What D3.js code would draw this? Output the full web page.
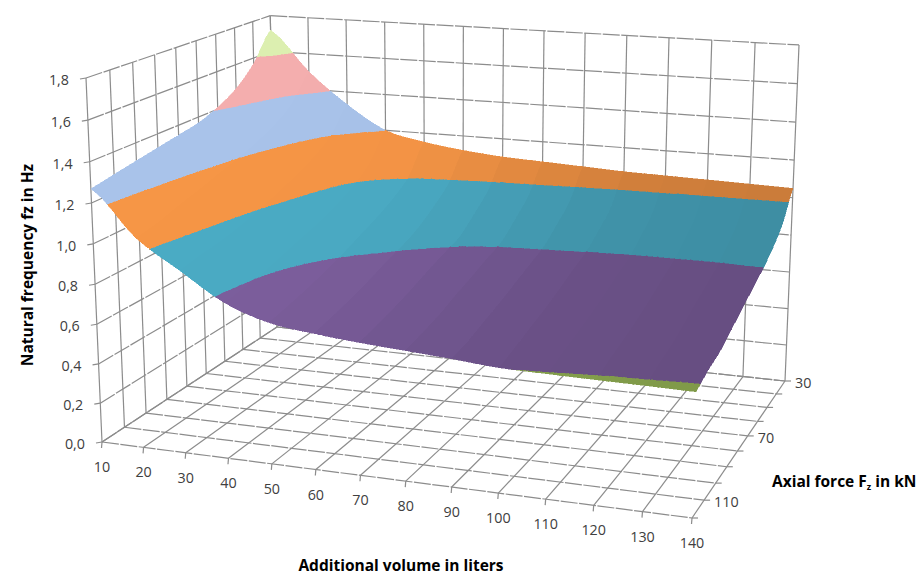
<!DOCTYPE html>
<html>
<head>
<meta charset="utf-8">
<script src="https://d3js.org/d3.v7.min.js"></script>
<style>
  body { margin: 0; background: #fff; }
  text { font-family: "Open Sans", sans-serif; }
  .tick { font-size: 14.3px; fill: #404040; }
  .title { font-size: 15.5px; font-weight: 700; fill: #000; }
</style>
</head>
<body>
<div id="chart"></div>
<script>
const volumes = [10, 20, 30, 40, 50, 60, 70, 80, 90, 100, 110, 120, 130, 140];
const forces = [30, 40, 50, 60, 70, 80, 90, 100, 110, 120];
const forceLabels = [30, 70, 110];
const freqTicks = [0, 0.2, 0.4, 0.6, 0.8, 1.0, 1.2, 1.4, 1.6, 1.8];

const f30 = [1.72, 1.50, 1.33, 1.20, 1.15, 1.12, 1.10, 1.09, 1.08, 1.07, 1.065, 1.06, 1.055, 1.05];
const f40 = [1.57, 1.365, 1.20, 1.07, 1.01, 0.985, 0.97, 0.96, 0.945, 0.935, 0.93, 0.925, 0.925, 0.925];
const f50 = [1.47, 1.29, 1.13, 0.99, 0.94, 0.91, 0.89, 0.88, 0.87, 0.86, 0.855, 0.85, 0.85, 0.85];
const f60 = [1.41, 1.24, 1.08, 0.94, 0.89, 0.85, 0.82, 0.81, 0.805, 0.80, 0.795, 0.795, 0.795, 0.80];
const f70 = [1.37, 1.20, 1.04, 0.90, 0.85, 0.81, 0.79, 0.78, 0.77, 0.765, 0.76, 0.755, 0.755, 0.76];
const f80 = [1.35, 1.17, 1.00, 0.87, 0.81, 0.78, 0.76, 0.745, 0.735, 0.725, 0.72, 0.715, 0.72, 0.72];
const f90 = [1.33, 1.135, 0.97, 0.84, 0.775, 0.745, 0.725, 0.715, 0.70, 0.69, 0.685, 0.68, 0.68, 0.68];
const f100 = [1.31, 1.105, 0.945, 0.81, 0.745, 0.715, 0.695, 0.68, 0.67, 0.66, 0.655, 0.65, 0.645, 0.64];
const f110 = [1.29, 1.07, 0.93, 0.79, 0.72, 0.69, 0.67, 0.655, 0.64, 0.63, 0.628, 0.625, 0.622, 0.62];
const f120 = [1.27, 1.05, 0.91, 0.775, 0.70, 0.67, 0.65, 0.635, 0.62, 0.602, 0.598, 0.595, 0.593, 0.59];
const surface = [f30, f40, f50, f60, f70, f80, f90, f100, f110, f120];

const bandColors = ['#4F81BD', '#C0504D', '#9BBB59', '#7D5F9E', '#4BACC6', '#F79646', '#A9C4EB', '#F5AEAE', '#DDF0B0'];

const width = 921;
const height = 575;

// box corners on the page, floor then top of the walls
const floorBackLeft = [277, 327];
const floorBackRight = [785, 381];
const floorFrontRight = [692, 518];
const floorFrontLeft = [102, 442];
const topFrontLeft = [86, 78];
const topBackRight = [799, 44];

const volumeScale = d3.scaleLinear().domain([10, 140]).range([0, 1]);
const forceScale = d3.scaleLinear().domain([30, 120]).range([0, 1]);
const freqScale = d3.scaleLinear().domain([0, 1.8]).range([0, 1]);
const shade = d3.scaleLinear().domain([0, 0.3, 0.7, 1]).range([1, 0.98, 0.85, 0.82]);

// unit square -> quad homography, plus a column for the height
const makeProjection = () => {
  const [x0, y0] = floorBackLeft;
  const [x1, y1] = floorBackRight;
  const [x2, y2] = floorFrontRight;
  const [x3, y3] = floorFrontLeft;
  const sx = x0 - x1 + x2 - x3;
  const sy = y0 - y1 + y2 - y3;
  const dx1 = x1 - x2;
  const dx2 = x3 - x2;
  const dy1 = y1 - y2;
  const dy2 = y3 - y2;
  const det = dx1 * dy2 - dx2 * dy1;
  const g = (sx * dy2 - dx2 * sy) / det;
  const h = (dx1 * sy - sx * dy1) / det;
  const a = x1 - x0 + g * x1;
  const b = x3 - x0 + h * x3;
  const d = y1 - y0 + g * y1;
  const e = y3 - y0 + h * y3;
  const nx = (u, v) => a * u + b * v + x0;
  const ny = (u, v) => d * u + e * v + y0;
  const w = (u, v) => g * u + h * v + 1;
  const [xa, ya] = topFrontLeft;
  const [xb] = topBackRight;
  const r = (nx(0, 1) - nx(1, 0) - xa * w(0, 1) + xb * w(1, 0)) / (xa - xb);
  const p = xa * (w(0, 1) + r) - nx(0, 1);
  const q = ya * (w(0, 1) + r) - ny(0, 1);
  return (u, v, z) => {
    const den = w(u, v) + r * z;
    return [(nx(u, v) + p * z) / den, (ny(u, v) + q * z) / den];
  };
};
const project = makeProjection();
const at = (volume, force, freq) => project(volumeScale(volume), forceScale(force), freqScale(freq));

const svg = d3.select('#chart').append('svg')
  .attr('width', width)
  .attr('height', height);

const gridLine = (from, to, dashed) => {
  svg.append('line')
    .attr('x1', from[0]).attr('y1', from[1])
    .attr('x2', to[0]).attr('y2', to[1])
    .attr('stroke', '#8c8c8c')
    .attr('stroke-width', 1.2)
    .attr('stroke-dasharray', dashed ? '17 1.5' : null);
};

const vMin = volumes[0];
const vMax = volumes[volumes.length - 1];
const fMin = forces[0];
const fMax = forces[forces.length - 1];
const zMax = freqTicks[freqTicks.length - 1];

// walls and floor
freqTicks.forEach((z) => {
  gridLine(at(vMin, fMax, z), at(vMin, fMin, z), true);
  gridLine(at(vMin, fMin, z), at(vMax, fMin, z), true);
  const edge = at(vMin, fMax, z);
  gridLine([edge[0] - 6, edge[1] + 1], edge, false);
});
volumes.forEach((volume) => {
  gridLine(at(volume, fMin, 0), at(volume, fMin, zMax), false);
  gridLine(at(volume, fMin, 0), at(volume, fMax, 0), false);
  const edge = at(volume, fMax, 0);
  gridLine(edge, [edge[0] - 0.5, edge[1] + 6], false);
});
forces.forEach((force) => {
  gridLine(at(vMin, force, 0), at(vMin, force, zMax), false);
  gridLine(at(vMin, force, 0), at(vMax, force, 0), true);
  const edge = at(vMax, force, 0);
  gridLine(edge, [edge[0] + 6, edge[1]], false);
});

// smooth the sheet between the read values, the way the original renders it
const spline = (list, pos) => {
  const i = Math.min(Math.floor(pos), list.length - 2);
  const t = pos - i;
  const p0 = list[Math.max(i - 1, 0)];
  const p1 = list[i];
  const p2 = list[i + 1];
  const p3 = list[Math.min(i + 2, list.length - 1)];
  return p1 + 0.5 * t * (p2 - p0 + t * (2 * p0 - 5 * p1 + 4 * p2 - p3 + t * (3 * p1 - p0 - 3 * p2 + p3)));
};
const heightAt = (rowPos, colPos) => spline(surface.map(row => spline(row, colPos)), rowPos);
const steps = 4;
const uOf = d3.scaleLinear().domain([0, volumes.length - 1]).range([0, 1]);
const vOf = d3.scaleLinear().domain([0, forces.length - 1]).range([0, 1]);
const node = (rowPos, colPos) => [uOf(colPos), vOf(rowPos), heightAt(rowPos, colPos)];

// cut a triangle to one frequency band, working in (u, v, z)
const clipBelow = (poly, limit, sign) => {
  const out = [];
  poly.forEach((cur, i) => {
    const next = poly[(i + 1) % poly.length];
    const dc = sign * (limit - cur[2]);
    const dn = sign * (limit - next[2]);
    if (dc >= 0) out.push(cur);
    if ((dc > 0 && dn < 0) || (dc < 0 && dn > 0)) {
      const t = dc / (dc - dn);
      out.push([cur[0] + t * (next[0] - cur[0]), cur[1] + t * (next[1] - cur[1]), limit]);
    }
  });
  return out;
};

const facets = [];
d3.range((forces.length - 1) * steps).forEach((i) => {
  d3.range((volumes.length - 1) * steps).forEach((j) => {
    const a = node(i / steps, j / steps);
    const b = node(i / steps, (j + 1) / steps);
    const c = node((i + 1) / steps, (j + 1) / steps);
    const d = node((i + 1) / steps, j / steps);
    const tone = shade(uOf(Math.floor(j / steps) + 0.5));
    [[a, b, d], [b, c, d]].forEach((tri) => {
      bandColors.forEach((color, k) => {
        const part = clipBelow(clipBelow(tri, (k + 1) * 0.2, 1), k * 0.2, -1);
        if (part.length > 2) {
          const base = d3.rgb(color);
          facets.push({
            points: part,
            fill: d3.rgb(base.r * tone, base.g * tone, base.b * tone).formatHex(),
          });
        }
      });
    });
  });
});

const facetPath = d3.line()
  .x(d => project(d[0], d[1], freqScale(d[2]))[0])
  .y(d => project(d[0], d[1], freqScale(d[2]))[1])
  .curve(d3.curveLinearClosed);

svg.selectAll('.facet').data(facets).enter().append('path')
  .attr('class', 'facet')
  .attr('d', d => facetPath(d.points))
  .attr('fill', d => d.fill)
  .attr('stroke', d => d.fill)
  .attr('stroke-width', 0.5)
  .attr('shape-rendering', 'crispEdges');

// tick labels
svg.selectAll('.freq').data(freqTicks).enter().append('text')
  .attr('class', 'tick')
  .attr('text-anchor', 'end')
  .attr('x', d => at(vMin, fMax, d)[0] - 17)
  .attr('y', d => at(vMin, fMax, d)[1] + 7)
  .text(d => d.toFixed(1).replace('.', ','));

svg.selectAll('.volume').data(volumes).enter().append('text')
  .attr('class', 'tick')
  .attr('text-anchor', 'middle')
  .attr('x', d => at(d, fMax, 0)[0])
  .attr('y', d => at(d, fMax, 0)[1] + 30)
  .text(d => d);

svg.selectAll('.force').data(forceLabels).enter().append('text')
  .attr('class', 'tick')
  .attr('x', d => at(vMax, d, 0)[0] + 10)
  .attr('y', d => at(vMax, d, 0)[1] + 7)
  .text(d => d);

// axis titles
svg.append('text')
  .attr('class', 'title')
  .attr('text-anchor', 'middle')
  .attr('x', 401)
  .attr('y', 570.5)
  .text('Additional volume in liters');

const forceTitle = svg.append('text')
  .attr('class', 'title')
  .attr('x', 772)
  .attr('y', 487);
forceTitle.append('tspan').text('Axial force F');
forceTitle.append('tspan').attr('dy', 3).attr('font-size', 9).text('z');
forceTitle.append('tspan').attr('dy', -3).text(' in kN');

svg.append('text')
  .attr('class', 'title')
  .attr('text-anchor', 'middle')
  .attr('transform', 'translate(33,265) rotate(-90)')
  .text('Natural frequency fz in Hz');
</script>
</body>
</html>
